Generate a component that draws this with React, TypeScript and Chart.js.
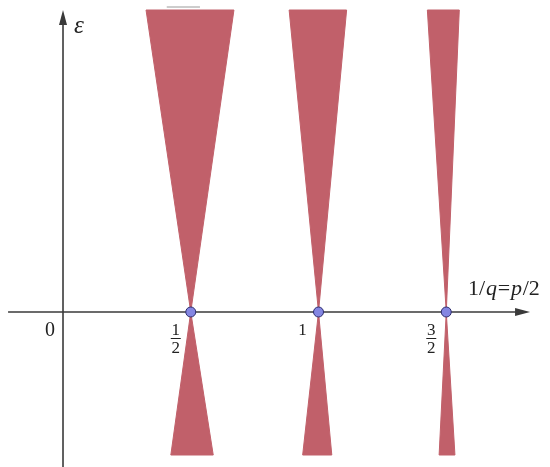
import React, { useEffect, useRef } from "react";
import { Chart, registerables } from "chart.js";

Chart.register(...registerables);

// Resonance tongues: apex on the axis at 1/q = p/2, edges at the top and bottom of the view
const apexX = [0.5, 1, 1.5];
const topEps = 3.02;
const bottomEps = -1.43;
const topLeft = [0.325, 0.885, 1.426];
const topRight = [0.669, 1.11, 1.551];
const bottomLeft = [0.422, 0.938, 1.472];
const bottomRight = [0.588, 1.052, 1.534];

// Axis extents
const xAxisStart = -0.215;
const xAxisEnd = 1.828;
const yAxisStart = -1.55;
const yAxisEnd = 3.02;

// Tick labels
const tickLabels = [
  { x: 0, num: "0", den: "" },
  { x: 0.5, num: "1", den: "2" },
  { x: 1, num: "1", den: "" },
  { x: 1.5, num: "3", den: "2" },
];

// small stray stroke above the first tongue
const strokeX = [0.406, 0.536];
const strokeY = 3.05;

const WEDGE = "rgb(193,96,106)";

export default function App() {
  const ref = useRef<HTMLCanvasElement | null>(null);

  useEffect(() => {
    if (!ref.current) return;
    const datasets: any[] = [];
    apexX.forEach((ax, i) => {
      datasets.push({
        type: "line",
        order: 10,
        data: [
          { x: topLeft[i], y: topEps },
          { x: topRight[i], y: topEps },
          { x: ax, y: 0 },
          { x: topLeft[i], y: topEps },
        ],
        showLine: true,
        fill: "shape",
        backgroundColor: WEDGE,
        borderColor: WEDGE,
        borderWidth: 1,
        pointRadius: 0,
        tension: 0,
      });
      datasets.push({
        type: "line",
        order: 10,
        data: [
          { x: bottomLeft[i], y: bottomEps },
          { x: bottomRight[i], y: bottomEps },
          { x: ax, y: 0 },
          { x: bottomLeft[i], y: bottomEps },
        ],
        showLine: true,
        fill: "shape",
        backgroundColor: WEDGE,
        borderColor: WEDGE,
        borderWidth: 1,
        pointRadius: 0,
        tension: 0,
      });
    });
    // axes
    datasets.push({
      type: "line",
      order: 5,
      data: [
        { x: xAxisStart, y: 0 },
        { x: xAxisEnd - 0.03, y: 0 },
      ],
      showLine: true,
      fill: false,
      borderColor: "#3a3a3a",
      borderWidth: 1.6,
      pointRadius: 0,
    });
    datasets.push({
      type: "line",
      order: 5,
      data: [
        { x: 0, y: yAxisStart },
        { x: 0, y: yAxisEnd - 0.1 },
      ],
      showLine: true,
      fill: false,
      borderColor: "#3a3a3a",
      borderWidth: 1.6,
      pointRadius: 0,
    });
    datasets.push({
      type: "line",
      order: 5,
      data: [
        { x: strokeX[0], y: strokeY },
        { x: strokeX[1], y: strokeY },
      ],
      showLine: true,
      fill: false,
      borderColor: "#9a9a9a",
      borderWidth: 1,
      pointRadius: 0,
    });
    // apex points
    datasets.push({
      type: "scatter",
      order: 0,
      data: apexX.map((x) => ({ x, y: 0 })),
      pointRadius: 5,
      backgroundColor: "rgb(132,134,226)",
      borderColor: "rgb(45,45,110)",
      borderWidth: 1,
    });

    const overlay = {
      id: "overlay",
      afterDatasetsDraw(chart: any) {
        const ctx = chart.ctx as CanvasRenderingContext2D;
        const xs = chart.scales.x;
        const ys = chart.scales.y;
        const px = (v: number) => xs.getPixelForValue(v);
        const py = (v: number) => ys.getPixelForValue(v);
        ctx.save();
        ctx.fillStyle = "#3a3a3a";
        // x arrow head
        const tipX = px(xAxisEnd);
        const y0 = py(0);
        ctx.beginPath();
        ctx.moveTo(tipX, y0);
        ctx.lineTo(tipX - 15, y0 - 4);
        ctx.lineTo(tipX - 15, y0 + 4);
        ctx.closePath();
        ctx.fill();
        // y arrow head
        const x0 = px(0);
        const tipY = py(yAxisEnd);
        ctx.beginPath();
        ctx.moveTo(x0, tipY);
        ctx.lineTo(x0 - 4, tipY + 15);
        ctx.lineTo(x0 + 4, tipY + 15);
        ctx.closePath();
        ctx.fill();

        // epsilon
        ctx.fillStyle = "#222";
        ctx.textBaseline = "alphabetic";
        ctx.textAlign = "left";
        ctx.font = "italic 25px 'Liberation Serif', 'DejaVu Serif', serif";
        ctx.fillText("ε", x0 + 11, tipY + 23);

        // axis title 1/q=p/2
        const parts: [string, boolean][] = [
          ["1/", false],
          ["q", true],
          ["=", false],
          ["p", true],
          ["/2", false],
        ];
        let cx = 468;
        const base = py(0) - 17;
        parts.forEach(([t, it]) => {
          ctx.font = (it ? "italic " : "") + "22px 'Liberation Serif', 'DejaVu Serif', serif";
          ctx.fillText(t, cx, base);
          cx += ctx.measureText(t).width + 0.8;
        });

        // tick labels
        ctx.textAlign = "center";
        tickLabels.forEach((tl) => {
          if (tl.x === 0) {
            ctx.font = "20px 'Liberation Serif', 'DejaVu Serif', serif";
            ctx.textBaseline = "middle";
            ctx.fillText(tl.num, px(tl.x) - 13, y0 + 19);
            return;
          }
          const cxl = px(tl.x) - 16;
          ctx.font = "17px 'Liberation Serif', 'DejaVu Serif', serif";
          ctx.textBaseline = "alphabetic";
          if (tl.den) {
            ctx.fillText(tl.num, cxl + 1, y0 + 23);
            ctx.fillRect(cxl - 4, y0 + 26, 10, 1);
            ctx.fillText(tl.den, cxl + 1, y0 + 41);
          } else {
            ctx.fillText(tl.num, cxl, y0 + 23);
          }
        });
        ctx.restore();
      },
    };

    const chart = new Chart(ref.current, {
      type: "scatter",
      data: { datasets },
      options: {
        animation: false,
        responsive: false,
        layout: { padding: 0, autoPadding: false },
        plugins: { legend: { display: false }, tooltip: { enabled: false } },
        scales: {
          x: { type: "linear", display: false, min: -0.2466, max: 1.906 },
          y: { type: "linear", display: false, min: -1.55, max: 3.12 },
        },
      },
      plugins: [overlay],
    } as any);
    return () => chart.destroy();
  }, []);

  return (
    <div style={{ position: "absolute", left: 0, top: 0, width: 550, height: 467, background: "#fff" }}>
      <canvas ref={ref} width={550} height={467} />
    </div>
  );
}
